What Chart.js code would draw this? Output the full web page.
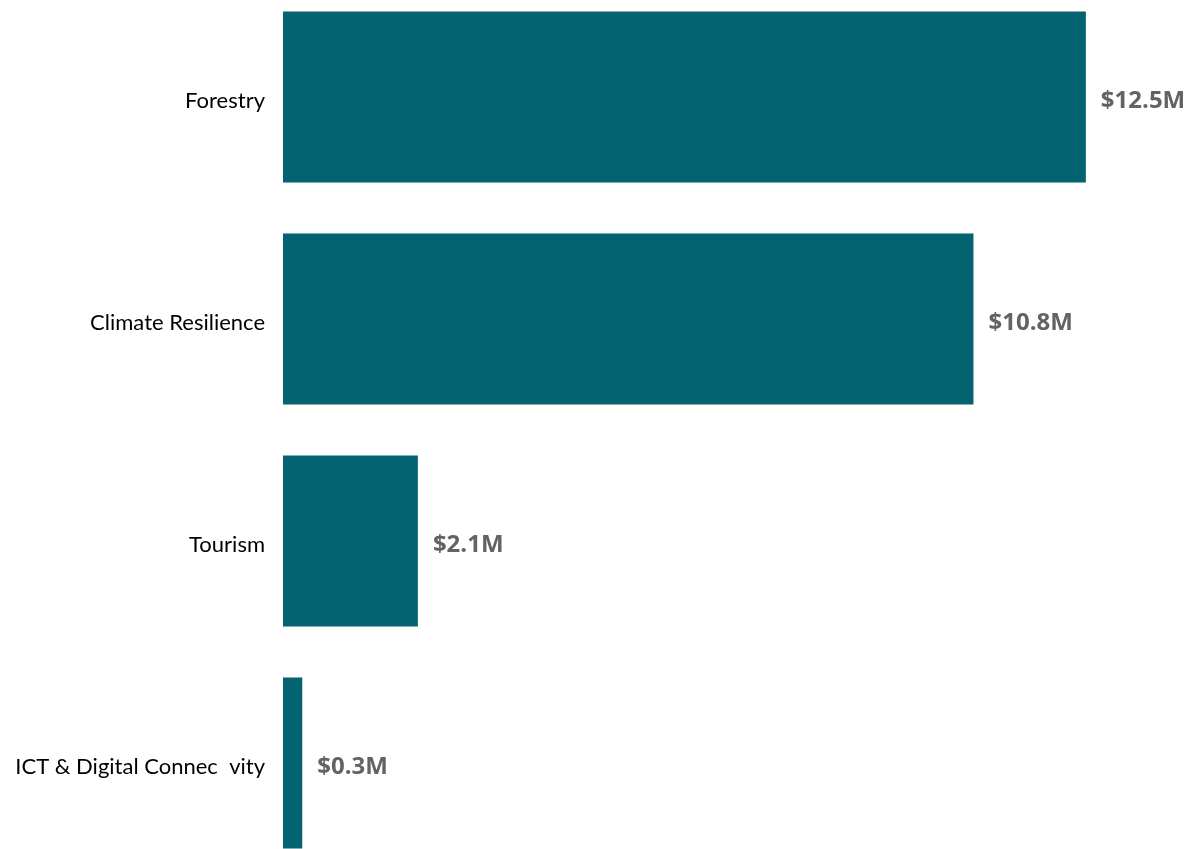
<!DOCTYPE html>
<html>
<head>
<meta charset="utf-8">
<script src="https://cdn.jsdelivr.net/npm/chart.js@4"></script>
<style>
  html, body { margin: 0; padding: 0; background: #fff; overflow: hidden; }
  #wrap { position: absolute; left: 0; top: -14px; width: 1188px; height: 888px; }
</style>
</head>
<body>
<div id="wrap"><canvas id="graf-barra"></canvas></div>
<script>
// Categorias e valores (US$ milhões)
const categories = ["Forestry", "Climate Resilience", "Tourism", "ICT & Digital Connec  vity"];
const values = [12.5, 10.75, 2.1, 0.3];
const valueLabels = ["$12.5M", "$10.8M", "$2.1M", "$0.3M"];

// rótulos das categorias (à esquerda) e dos valores (à direita das barras)
const labelPlugin = {
  id: "labels",
  afterDatasetsDraw(chart) {
    const ctx = chart.ctx;
    const yScale = chart.scales.y;
    const meta = chart.getDatasetMeta(0);
    ctx.save();
    ctx.textBaseline = "middle";
    ctx.font = "22px Lato";
    ctx.fillStyle = "#000";
    ctx.textAlign = "right";
    categories.forEach((c, i) => {
      ctx.fillText(c, chart.chartArea.left - 18, yScale.getPixelForValue(i) + 4);
    });
    ctx.font = "bold 24px 'Open Sans'";
    ctx.fillStyle = "#636363";
    ctx.textAlign = "left";
    meta.data.forEach((bar, i) => {
      ctx.fillText(valueLabels[i], bar.x + 15, bar.y + 4);
    });
    ctx.restore();
  }
};

document.addEventListener("DOMContentLoaded", () => {
  new Chart(document.getElementById("graf-barra"), {
    type: "bar",
    data: {
      labels: categories,
      datasets: [{
        data: values,
        backgroundColor: "#036371",
        categoryPercentage: 0.77,
        barPercentage: 1
      }]
    },
    options: {
      indexAxis: "y",
      responsive: true,
      maintainAspectRatio: false,
      animation: false,
      layout: { padding: { left: 283, right: 0, top: 0, bottom: 0 } },
      plugins: { legend: { display: false }, tooltip: { enabled: false } },
      scales: {
        x: { display: false, min: 0, max: 14.09 },
        y: { display: false }
      }
    },
    plugins: [labelPlugin]
  });
});
</script>
</body>
</html>
